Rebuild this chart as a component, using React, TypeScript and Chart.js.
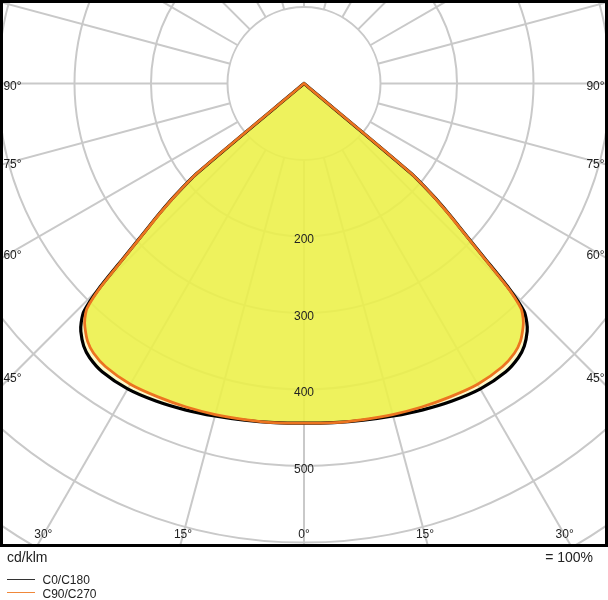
import React, { useEffect, useRef } from 'react';
import { Chart, registerables } from 'chart.js';

Chart.register(...registerables);

// Luminous intensity (cd/klm) per gamma angle (degrees from nadir)
const ANGLES = [0, 5, 10, 15, 20, 25, 30, 35, 38, 40, 42, 43, 44, 45, 46, 47, 48, 49, 50, 51];
const C0_C180 = [444, 445, 447, 450, 454, 458, 461, 460, 455, 448, 436, 427, 414, 379, 326, 286, 255, 223, 182, 0];
const C90_C270 = [444, 445, 446, 448, 450, 452, 454, 452, 447, 440, 428, 420, 408, 375, 323, 284, 253, 222, 181, 0];

const RING_VALUES = [100, 200, 300, 400, 500, 600, 700, 800];
const RING_LABELS = [200, 300, 400, 500];
const SPOKE_ANGLES = [0, 15, 30, 45, 60, 75, 90, 105, 120, 135, 150, 165, 180, 195, 210, 225, 240, 255, 270, 285, 300, 315, 330, 345];
const SIDE_LABELS = [90, 75, 60, 45];
const BOTTOM_LABELS = [0, 15, 30];

const SERIES_NAMES = ['C0/C180', 'C90/C270'];
const UNIT_LABEL = 'cd/klm';
const SCALE_LABEL = '= 100%';

const FONT = '"Liberation Sans", Arial, Helvetica, sans-serif';

function toPoints(vals: number[]) {
  const pts: { x: number; y: number }[] = [];
  for (let i = ANGLES.length - 1; i >= 0; i--) {
    const t = (ANGLES[i] * Math.PI) / 180;
    pts.push({ x: -vals[i] * Math.sin(t), y: -vals[i] * Math.cos(t) });
  }
  for (let i = 1; i < ANGLES.length; i++) {
    const t = (ANGLES[i] * Math.PI) / 180;
    pts.push({ x: vals[i] * Math.sin(t), y: -vals[i] * Math.cos(t) });
  }
  return pts;
}

const polarPlugin = {
  id: 'polarGrid',
  beforeDatasetsDraw(chart: any) {
    const { ctx, chartArea, scales } = chart;
    const xs = scales.x;
    const ys = scales.y;
    const cx = xs.getPixelForValue(0);
    const cy = ys.getPixelForValue(0);
    const k = xs.getPixelForValue(100) - cx;
    ctx.save();
    ctx.beginPath();
    ctx.rect(chartArea.left, chartArea.top, chartArea.right - chartArea.left, chartArea.bottom - chartArea.top);
    ctx.clip();
    ctx.fillStyle = '#ffffff';
    ctx.fillRect(chartArea.left, chartArea.top, chartArea.right - chartArea.left, chartArea.bottom - chartArea.top);
    ctx.strokeStyle = '#c9c9c9';
    ctx.lineWidth = 2;
    RING_VALUES.forEach((r) => {
      ctx.beginPath();
      ctx.arc(cx, cy, (r / 100) * k, 0, Math.PI * 2);
      ctx.stroke();
    });
    SPOKE_ANGLES.forEach((a) => {
      const t = (a * Math.PI) / 180;
      const r0 = k;
      const r1 = k * 12;
      ctx.beginPath();
      ctx.moveTo(cx + r0 * Math.sin(t), cy + r0 * Math.cos(t));
      ctx.lineTo(cx + r1 * Math.sin(t), cy + r1 * Math.cos(t));
      ctx.stroke();
    });
    // filled light distribution areas, following the drawn (smoothed) line path
    chart.data.datasets.forEach((ds: any, i: number) => {
      const meta = chart.getDatasetMeta(i);
      const line = meta.dataset;
      if (!line || !meta.data.length) return;
      ctx.beginPath();
      line.path(ctx);
      ctx.closePath();
      ctx.fillStyle = ds.areaColor;
      ctx.fill();
    });
    ctx.restore();
  },
  afterDatasetsDraw(chart: any) {
    const { ctx, chartArea, scales } = chart;
    const xs = scales.x;
    const ys = scales.y;
    const cx = xs.getPixelForValue(0);
    const cy = ys.getPixelForValue(0);
    const k = xs.getPixelForValue(100) - cx;
    ctx.save();
    ctx.font = `12px ${FONT}`;
    ctx.fillStyle = '#222222';
    ctx.textAlign = 'center';
    ctx.textBaseline = 'middle';
    RING_LABELS.forEach((r) => {
      ctx.fillText(String(r), cx, cy + (r / 100) * k + 3.5);
    });
    const d = chartArea.right - 11 - cx;
    SIDE_LABELS.forEach((a) => {
      const t = (a * Math.PI) / 180;
      const y = cy + (d * Math.cos(t)) / Math.sin(t) + 3.5;
      ctx.fillText(`${a}°`, cx + d, y);
      ctx.fillText(`${a}°`, cx - d, y);
    });
    const yb = chartArea.bottom - 10.5;
    BOTTOM_LABELS.forEach((a) => {
      const t = (a * Math.PI) / 180;
      const dx = (yb - cy) * Math.tan(t);
      ctx.fillText(`${a}°`, cx + dx, yb);
      if (a !== 0) ctx.fillText(`${a}°`, cx - dx, yb);
    });
    ctx.restore();
  },
  afterDraw(chart: any) {
    const { ctx, chartArea } = chart;
    ctx.save();
    ctx.strokeStyle = '#000000';
    ctx.lineWidth = 3;
    ctx.strokeRect(chartArea.left, chartArea.top, chartArea.right - chartArea.left, chartArea.bottom - chartArea.top);
    ctx.restore();
  },
};

export default function App() {
  const ref = useRef<HTMLCanvasElement | null>(null);
  useEffect(() => {
    if (!ref.current) return;
    const chart = new Chart(ref.current, {
      type: 'scatter',
      data: {
        datasets: [
          {
            label: SERIES_NAMES[0],
            data: toPoints(C0_C180),
            showLine: true,
            borderColor: '#000000',
            borderWidth: 3.2,
            pointRadius: 0,
            fill: false,
            tension: 0.25,
            borderJoinStyle: 'round',
            borderCapStyle: 'round',
            order: 2,
            areaColor: 'rgba(250,245,150,0.5)',
          } as any,
          {
            label: SERIES_NAMES[1],
            data: toPoints(C90_C270),
            showLine: true,
            borderColor: '#ec7420',
            borderWidth: 2.8,
            pointRadius: 0,
            fill: false,
            tension: 0.25,
            borderJoinStyle: 'round',
            borderCapStyle: 'round',
            order: 1,
            areaColor: 'rgba(233,239,63,0.78)',
          } as any,
        ],
      },
      options: {
        animation: false,
        responsive: true,
        maintainAspectRatio: false,
        events: [],
        layout: { padding: { left: 1.5, right: 1.5, top: 1.5, bottom: 54.5 } },
        scales: {
          x: { type: 'linear', min: -395.4, max: 395.4, display: false },
          y: { type: 'linear', min: -603.9, max: 107.2, display: false },
        },
        plugins: { legend: { display: false }, tooltip: { enabled: false } },
      },
      plugins: [polarPlugin],
    });
    return () => chart.destroy();
  }, []);

  const txt: React.CSSProperties = { position: 'absolute', fontFamily: FONT, color: '#222', whiteSpace: 'nowrap' };
  return (
    <div style={{ position: 'absolute', left: 0, top: 0, width: 608, height: 600, background: '#fff' }}>
      <canvas ref={ref} />
      <div style={{ ...txt, left: 7, top: 549, fontSize: 14, lineHeight: '16px' }}>{UNIT_LABEL}</div>
      <div style={{ ...txt, right: 15, top: 549, fontSize: 14, lineHeight: '16px' }}>{SCALE_LABEL}</div>
      <div style={{ position: 'absolute', left: 7, top: 579, width: 28, height: 0, borderTop: '1px solid #333' }} />
      <div style={{ ...txt, left: 42.5, top: 573, fontSize: 12, lineHeight: '14px' }}>{SERIES_NAMES[0]}</div>
      <div style={{ position: 'absolute', left: 7, top: 592, width: 28, height: 0, borderTop: '1px solid #f0883a' }} />
      <div style={{ ...txt, left: 42.5, top: 586.5, fontSize: 12, lineHeight: '14px' }}>{SERIES_NAMES[1]}</div>
    </div>
  );
}
